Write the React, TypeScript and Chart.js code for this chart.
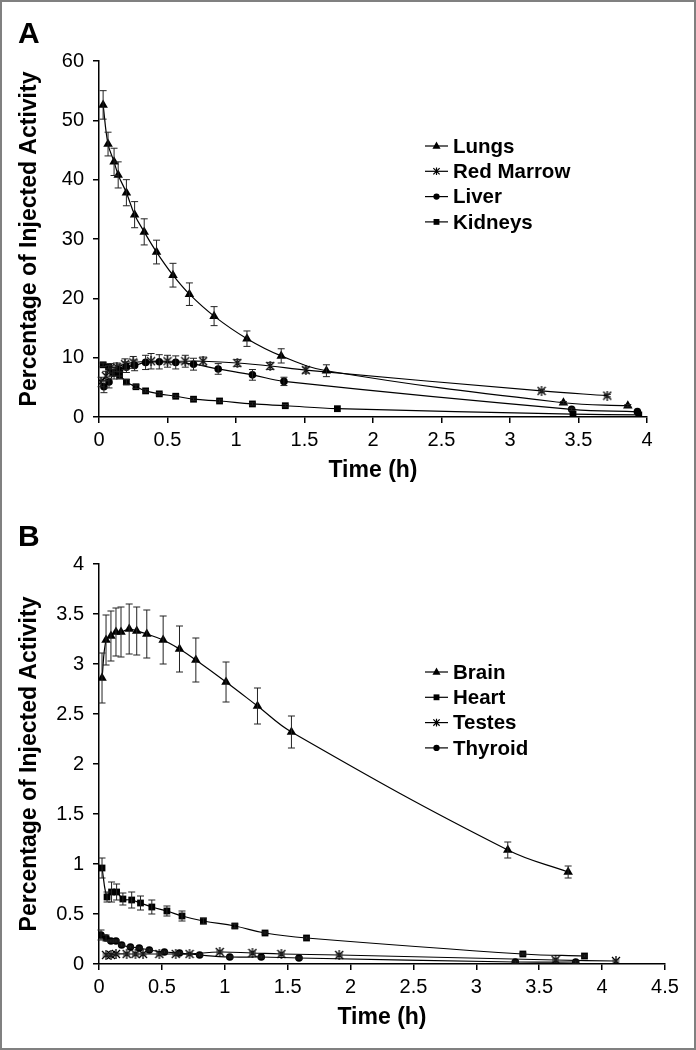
import React, { useEffect, useRef } from "react";
import { Chart, registerables } from "chart.js";
Chart.register(...registerables);

const FONT = '"Liberation Sans", Arial, Helvetica, sans-serif';

// ---------- Panel A data ----------
const lungsTime = [0.03, 0.066, 0.11, 0.14, 0.2, 0.26, 0.33, 0.42, 0.54, 0.66, 0.84, 1.08, 1.33, 1.66, 3.39, 3.86];
const lungsPct = [52.6, 46.0, 43.0, 40.8, 37.8, 34.1, 31.2, 27.8, 23.9, 20.7, 17.0, 13.2, 10.3, 7.8, 2.4, 1.9];
const lungsErr = [2.4, 2.0, 2.3, 2.2, 2.2, 2.2, 2.2, 2.0, 2.0, 1.9, 1.6, 1.3, 1.2, 1.0, 0.2, 0.2];

const marrowTime = [0.015, 0.05, 0.08, 0.13, 0.19, 0.25, 0.38, 0.5, 0.63, 0.76, 1.01, 1.25, 1.51, 3.23, 3.71];
const marrowPct = [5.9, 6.9, 8.2, 8.4, 8.9, 9.2, 9.4, 9.4, 9.4, 9.4, 9.1, 8.6, 7.9, 4.4, 3.6];
const marrowErr = [0.8, 0.8, 0.8, 0.7, 0.9, 1.0, 1.3, 1.0, 1.0, 0.7, 0.6, 0.6, 0.5, 0.2, 0.2];

const liverTime = [0.036, 0.073, 0.11, 0.15, 0.2, 0.26, 0.34, 0.44, 0.56, 0.69, 0.87, 1.12, 1.35, 3.45, 3.93];
const liverPct = [5.1, 5.9, 7.4, 7.9, 8.4, 8.7, 9.2, 9.3, 9.2, 8.9, 8.1, 7.1, 6.0, 1.3, 0.9];
const liverErr = [1.0, 1.0, 1.0, 1.0, 0.9, 0.9, 1.2, 1.2, 1.1, 1.0, 0.9, 0.9, 0.7, 0.2, 0.1];

const kidneysTime = [0.03, 0.07, 0.1, 0.15, 0.2, 0.27, 0.34, 0.44, 0.56, 0.69, 0.88, 1.12, 1.36, 1.74, 3.46, 3.94];
const kidneysPct = [8.8, 8.4, 7.5, 7.0, 5.9, 5.1, 4.4, 3.9, 3.5, 3.0, 2.7, 2.2, 1.9, 1.4, 0.5, 0.35];
const kidneysErr = [0.3, 0.3, 0.6, 0.6, 0.4, 0.3, 0.2, 0.2, 0.2, 0.2, 0.2, 0.2, 0.2, 0.1, 0.1, 0.1];

// ---------- Panel B data ----------
const brainTime = [0.024, 0.056, 0.095, 0.135, 0.175, 0.24, 0.3, 0.38, 0.51, 0.64, 0.77, 1.01, 1.26, 1.53, 3.25, 3.73];
const brainPct = [2.86, 3.24, 3.28, 3.32, 3.32, 3.35, 3.33, 3.3, 3.24, 3.15, 3.04, 2.82, 2.58, 2.32, 1.14, 0.92];
const brainErr = [0.25, 0.25, 0.25, 0.24, 0.25, 0.25, 0.24, 0.24, 0.24, 0.23, 0.22, 0.2, 0.18, 0.16, 0.08, 0.06];

const heartTime = [0.024, 0.064, 0.1, 0.14, 0.19, 0.26, 0.33, 0.42, 0.54, 0.66, 0.83, 1.08, 1.32, 1.65, 3.37, 3.86];
const heartPct = [0.96, 0.67, 0.72, 0.72, 0.65, 0.64, 0.61, 0.57, 0.53, 0.48, 0.43, 0.38, 0.31, 0.26, 0.1, 0.08];
const heartErr = [0.1, 0.05, 0.1, 0.08, 0.06, 0.08, 0.07, 0.07, 0.05, 0.05, 0.03, 0.02, 0.01, 0.01, 0.01, 0.01];

const testesTime = [0.056, 0.095, 0.135, 0.22, 0.29, 0.35, 0.48, 0.61, 0.72, 0.96, 1.22, 1.45, 1.91, 3.63, 4.11];
const testesPct = [0.09, 0.09, 0.1, 0.1, 0.1, 0.1, 0.1, 0.1, 0.1, 0.12, 0.11, 0.1, 0.09, 0.04, 0.03];
const testesErr = [0.01, 0.01, 0.01, 0.01, 0.01, 0.01, 0.01, 0.01, 0.01, 0.01, 0.01, 0.01, 0.01, 0.01, 0.01];

const thyroidTime = [0.016, 0.056, 0.095, 0.135, 0.18, 0.25, 0.32, 0.4, 0.52, 0.64, 0.8, 1.04, 1.29, 1.59, 3.31, 3.79];
const thyroidPct = [0.29, 0.26, 0.23, 0.23, 0.19, 0.17, 0.16, 0.14, 0.12, 0.11, 0.09, 0.07, 0.07, 0.06, 0.02, 0.02];
const thyroidErr = [0.05, 0.03, 0.01, 0.01, 0.01, 0.01, 0.01, 0.01, 0.01, 0.01, 0.01, 0.01, 0.01, 0.01, 0.01, 0.01];

const yTitle = "Percentage of Injected Activity";
const xTitle = "Time (h)";

type Marker = "triangle" | "asterisk" | "circle" | "square";

function makeAsterisk(size: number, lw: number): HTMLCanvasElement {
  const c = document.createElement("canvas");
  c.width = size;
  c.height = size;
  const g = c.getContext("2d")!;
  g.strokeStyle = "#000";
  g.lineWidth = lw;
  const m = 1;
  g.beginPath();
  g.moveTo(m, m);
  g.lineTo(size - m, size - m);
  g.moveTo(size - m, m);
  g.lineTo(m, size - m);
  g.moveTo(size / 2, 0);
  g.lineTo(size / 2, size);
  g.stroke();
  return c;
}

function drawMarker(ctx: CanvasRenderingContext2D, m: Marker, x: number, y: number, s: number) {
  ctx.save();
  ctx.fillStyle = "#000";
  ctx.strokeStyle = "#000";
  ctx.beginPath();
  if (m === "triangle") {
    ctx.moveTo(x, y - s);
    ctx.lineTo(x + s * 0.9, y + s * 0.6);
    ctx.lineTo(x - s * 0.9, y + s * 0.6);
    ctx.closePath();
    ctx.fill();
  } else if (m === "circle") {
    ctx.arc(x, y, s * 0.7, 0, Math.PI * 2);
    ctx.fill();
  } else if (m === "square") {
    ctx.rect(x - s * 0.65, y - s * 0.65, s * 1.3, s * 1.3);
    ctx.fill();
  } else {
    ctx.lineWidth = 1.2;
    const r = s * 0.7;
    ctx.moveTo(x - r, y - r);
    ctx.lineTo(x + r, y + r);
    ctx.moveTo(x + r, y - r);
    ctx.lineTo(x - r, y + r);
    ctx.moveTo(x, y - r * 1.2);
    ctx.lineTo(x, y + r * 1.2);
    ctx.stroke();
  }
  ctx.restore();
}

type Series = { label: string; time: number[]; pct: number[]; err: number[]; marker: Marker };

function buildDataset(s: Series, asterisk: HTMLCanvasElement) {
  const style: any =
    s.marker === "triangle" ? "triangle" : s.marker === "circle" ? "circle" : s.marker === "square" ? "rect" : asterisk;
  const radius = s.marker === "triangle" ? 5.5 : s.marker === "circle" ? 3.8 : s.marker === "square" ? 4.8 : 5;
  return {
    label: s.label,
    data: s.time.map((t, i) => ({ x: t, y: s.pct[i] })),
    errorBars: s.err,
    marker: s.marker,
    borderColor: "#000",
    borderWidth: 1.2,
    backgroundColor: "#000",
    pointBackgroundColor: "#000",
    pointBorderColor: "#000",
    pointBorderWidth: 0,
    pointStyle: style,
    pointRadius: radius,
    tension: 0.4,
    fill: false,
  };
}

const errorBarPlugin = {
  id: "errorBars",
  afterDatasetsDraw(chart: any) {
    const ctx = chart.ctx as CanvasRenderingContext2D;
    const xs = chart.scales.x;
    const ys = chart.scales.y;
    ctx.save();
    ctx.strokeStyle = "#222";
    ctx.lineWidth = 1;
    chart.data.datasets.forEach((ds: any) => {
      const errs: number[] = ds.errorBars || [];
      ds.data.forEach((p: any, i: number) => {
        const e = errs[i] || 0;
        if (e <= 0) return;
        const x = xs.getPixelForValue(p.x);
        const yt = ys.getPixelForValue(p.y + e);
        const yb = ys.getPixelForValue(p.y - e);
        if (Math.abs(yb - yt) < 2) return;
        ctx.beginPath();
        ctx.moveTo(x, yt);
        ctx.lineTo(x, yb);
        ctx.moveTo(x - 3.5, yt);
        ctx.lineTo(x + 3.5, yt);
        ctx.moveTo(x - 3.5, yb);
        ctx.lineTo(x + 3.5, yb);
        ctx.stroke();
      });
    });
    ctx.restore();
  },
};

function legendPlugin(x0: number, y0: number, dy: number) {
  return {
    id: "customLegend",
    afterDraw(chart: any) {
      const ctx = chart.ctx as CanvasRenderingContext2D;
      ctx.save();
      chart.data.datasets.forEach((ds: any, i: number) => {
        const y = y0 + i * dy;
        ctx.strokeStyle = "#000";
        ctx.lineWidth = 1.2;
        ctx.beginPath();
        ctx.moveTo(x0, y);
        ctx.lineTo(x0 + 23, y);
        ctx.stroke();
        drawMarker(ctx, ds.marker, x0 + 11.5, y, 4.5);
        ctx.fillStyle = "#000";
        ctx.font = `bold 20.5px ${FONT}`;
        ctx.textAlign = "left";
        ctx.textBaseline = "middle";
        ctx.fillText(ds.label, x0 + 28, y + 1);
      });
      ctx.restore();
    },
  };
}

const fmt = (v: any) => String(Math.round(Number(v) * 100) / 100);

function makeOptions(p: {
  xMax: number;
  yMax: number;
  yStep: number;
  padTop: number;
  padRight: number;
  xHeight: number;
  xTitlePad: number;
}) {
  const tickFont = { family: FONT, size: 20 };
  const titleFont = { family: FONT, size: 23, weight: "bold" as const };
  return {
    animation: false as const,
    responsive: false,
    events: [],
    layout: { padding: { top: p.padTop, right: p.padRight, left: 0, bottom: 0 } },
    plugins: { legend: { display: false }, tooltip: { enabled: false } },
    scales: {
      x: {
        type: "linear" as const,
        min: 0,
        max: p.xMax,
        ticks: { stepSize: 0.5, color: "#000", font: tickFont, padding: 5, maxRotation: 0, callback: fmt },
        grid: { display: true, drawOnChartArea: false, drawTicks: true, tickLength: 6, color: "#000", lineWidth: 1.5 },
        border: { display: true, color: "#000", width: 1.5 },
        title: { display: true, text: xTitle, color: "#000", font: titleFont, padding: { top: 0, bottom: p.xTitlePad } },
        afterFit: (s: any) => {
          s.height = p.xHeight;
        },
      },
      y: {
        type: "linear" as const,
        min: 0,
        max: p.yMax,
        ticks: { stepSize: p.yStep, color: "#000", font: tickFont, padding: 9, callback: fmt },
        grid: { display: true, drawOnChartArea: false, drawTicks: true, tickLength: 6, color: "#000", lineWidth: 1.5 },
        border: { display: true, color: "#000", width: 1.5 },
        title: { display: true, text: yTitle, color: "#000", font: titleFont, padding: { top: 16, bottom: 0 } },
        afterFit: (s: any) => {
          s.width = 99;
        },
      },
    },
  };
}

function Panel(props: {
  top: number;
  height: number;
  series: Series[];
  xMax: number;
  yMax: number;
  yStep: number;
  padTop: number;
  padRight: number;
  xHeight: number;
  xTitlePad: number;
  legendY: number;
}) {
  const ref = useRef<HTMLCanvasElement | null>(null);
  useEffect(() => {
    if (!ref.current) return;
    const asterisk = makeAsterisk(10, 1.3);
    const chart = new Chart(ref.current, {
      type: "line",
      data: { datasets: props.series.map((s) => buildDataset(s, asterisk)) as any },
      options: makeOptions(props) as any,
      plugins: [errorBarPlugin, legendPlugin(425, props.legendY, 25.3)],
    });
    return () => chart.destroy();
  }, []);
  return (
    <canvas
      ref={ref}
      width={696}
      height={props.height}
      style={{ position: "absolute", left: 0, top: props.top, width: 696, height: props.height }}
    />
  );
}

const seriesA: Series[] = [
  { label: "Lungs", time: lungsTime, pct: lungsPct, err: lungsErr, marker: "triangle" },
  { label: "Red Marrow", time: marrowTime, pct: marrowPct, err: marrowErr, marker: "asterisk" },
  { label: "Liver", time: liverTime, pct: liverPct, err: liverErr, marker: "circle" },
  { label: "Kidneys", time: kidneysTime, pct: kidneysPct, err: kidneysErr, marker: "square" },
];

const seriesB: Series[] = [
  { label: "Brain", time: brainTime, pct: brainPct, err: brainErr, marker: "triangle" },
  { label: "Heart", time: heartTime, pct: heartPct, err: heartErr, marker: "square" },
  { label: "Testes", time: testesTime, pct: testesPct, err: testesErr, marker: "asterisk" },
  { label: "Thyroid", time: thyroidTime, pct: thyroidPct, err: thyroidErr, marker: "circle" },
];

export default function App() {
  const letter: React.CSSProperties = {
    position: "absolute",
    left: 18,
    fontFamily: FONT,
    fontWeight: "bold",
    fontSize: 30,
    lineHeight: "30px",
    color: "#000",
  };
  return (
    <div style={{ position: "absolute", left: 0, top: 0, width: 696, height: 1050, background: "#fff", overflow: "hidden" }}>
      <Panel
        top={0}
        height={500}
        series={seriesA}
        xMax={4}
        yMax={60}
        yStep={10}
        padTop={61}
        padRight={49}
        xHeight={83}
        xTitlePad={16}
        legendY={146}
      />
      <Panel
        top={500}
        height={550}
        series={seriesB}
        xMax={4.5}
        yMax={4}
        yStep={0.5}
        padTop={64}
        padRight={31}
        xHeight={86}
        xTitlePad={19}
        legendY={172}
      />
      <div style={{ ...letter, top: 18 }}>A</div>
      <div style={{ ...letter, top: 521 }}>B</div>
      <div
        style={{
          position: "absolute",
          left: 0,
          top: 0,
          width: 696,
          height: 1050,
          boxSizing: "border-box",
          border: "2px solid #808080",
          pointerEvents: "none",
        }}
      />
    </div>
  );
}
